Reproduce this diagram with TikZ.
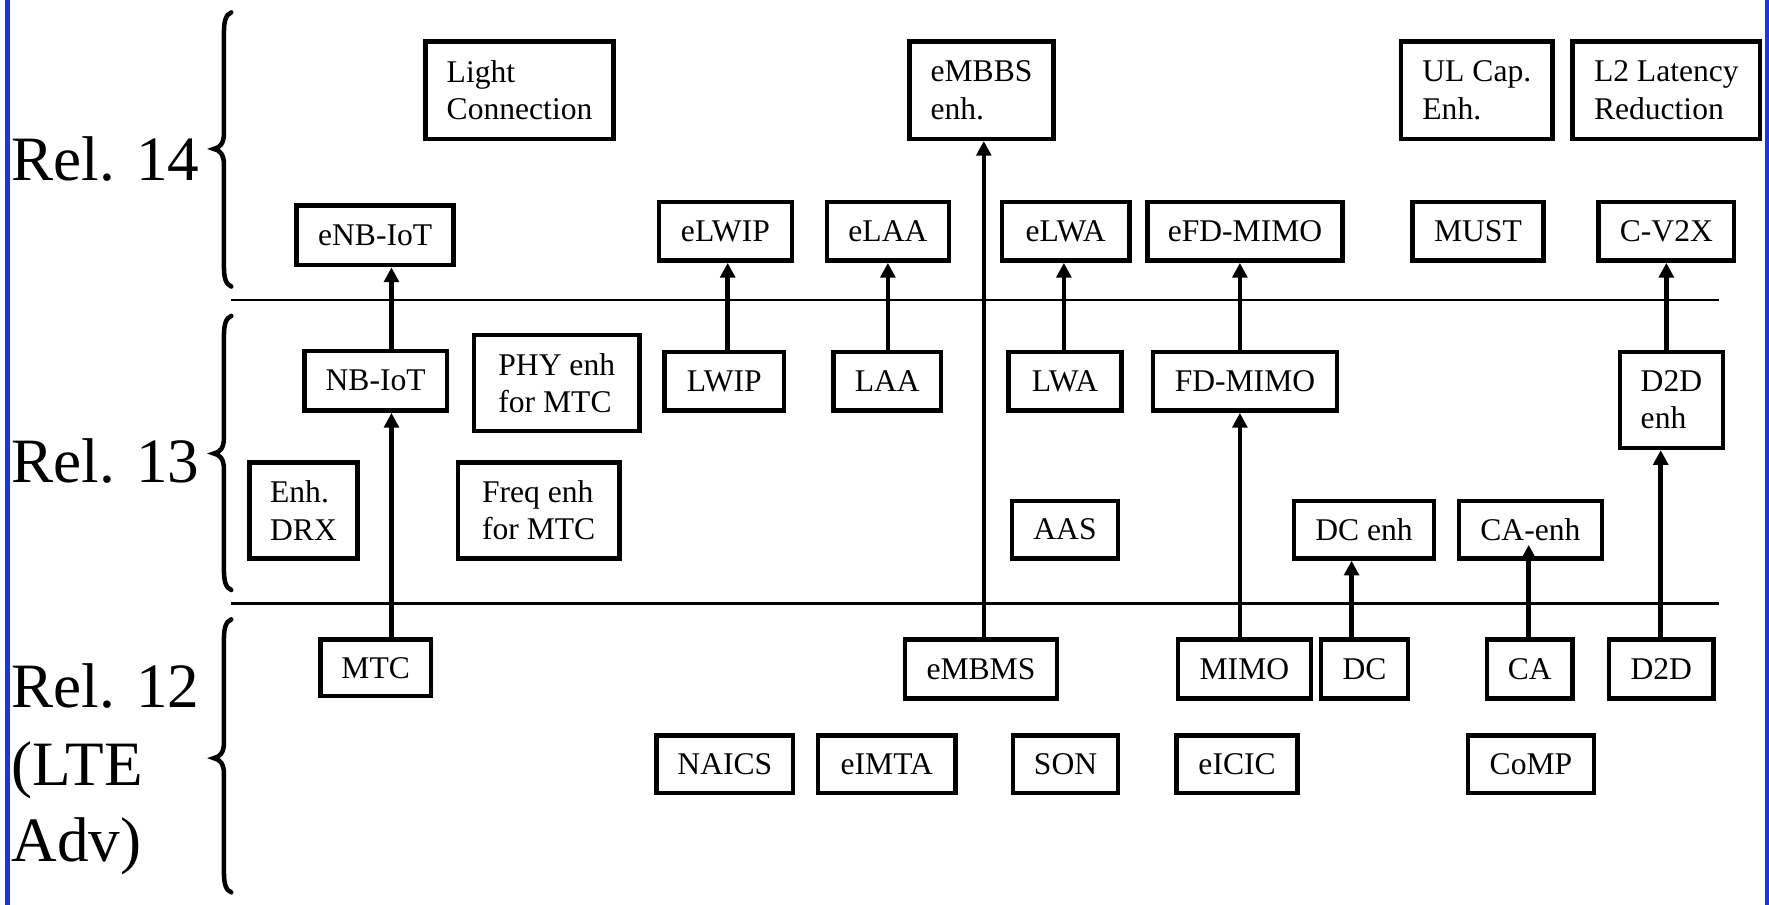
\documentclass[tikz,border=0pt]{standalone}
\usepackage{fontspec}
\setmainfont{Liberation Serif}
\usetikzlibrary{arrows.meta,calc}
\definecolor{sideblue}{RGB}{20,55,235}
\tikzset{
  box/.style={draw, line width=4pt, inner sep=0pt, font=\fontsize{28}{33}\selectfont, align=left},
  arr/.style={line width=4pt, -{Triangle[width=13pt,length=13pt]}},
  rel/.style={font=\fontsize{56}{68}\selectfont, anchor=base west, inner sep=0pt},
  sepline/.style={line width=2pt},
  bracepath/.style={line width=4pt, line cap=round},
}
\newcommand{\bx}[6]{%
  \node[box, minimum width={(#4-#2-4)*1pt}, minimum height={(#5-#3-4)*1pt}] (#1) at ({(#2+#4)/2},{(#3+#5)/2}) {#6};}
\newcommand{\relbrace}[3]{%
  \draw[bracepath] (205,#1) .. controls (200,#1+2) and (198.5,#1+8) .. (198.5,#1+18)
    -- (198.5,#2-14) .. controls (198.5,#2-5) and (195,#2-1) .. (189.5,#2)
    .. controls (195,#2+1) and (198.5,#2+5) .. (198.5,#2+14)
    -- (198.5,#3-18) .. controls (198.5,#3-8) and (200,#3-2) .. (205,#3);}
\begin{document}
\begin{tikzpicture}[x=1pt,y=-1pt]
\useasboundingbox (0,0) rectangle (1568,802);
\fill[sideblue] (4,0) rectangle (8.5,802);
\fill[sideblue] (1564,0) rectangle (1568,802);

% release labels
\node[rel] (r14) at (10,160) {Rel. 14};
\node[rel] (r13) at (10,428) {Rel. 13};
\node[rel] (r12a) at (10,627) {Rel. 12};
\node[rel] (r12b) at (10,696) {(LTE};
\node[rel] (r12c) at (10,764) {Adv)};

\relbrace{11}{132}{254}
\relbrace{280}{402}{523}
\relbrace{549}{672}{791}

\coordinate (s1a) at (205,266); \coordinate (s1b) at (1524,266);
\coordinate (s2a) at (205,535); \coordinate (s2b) at (1524,535);
\draw[sepline] (s1a) -- (s1b);
\draw[sepline] (s2a) -- (s2b);

% Rel. 14
\bx{LC}{375}{35}{546}{125}{Light\\Connection}
\bx{eMBBS}{804}{35}{936}{125}{eMBBS\\enh.}
\bx{ULC}{1240}{35}{1378}{125}{UL Cap.\\Enh.}
\bx{L2}{1392}{35}{1562}{125}{L2 Latency\\Reduction}
\bx{eNB}{261}{180}{404}{237}{eNB-IoT}
\bx{eLWIP}{582}{177}{704}{233}{eLWIP}
\bx{eLAA}{731}{177}{843}{233}{eLAA}
\bx{eLWA}{886}{177}{1003}{233}{eLWA}
\bx{eFD}{1015}{177}{1192}{233}{eFD-MIMO}
\bx{MUST}{1250}{177}{1370}{233}{MUST}
\bx{CV2X}{1415}{177}{1539}{233}{C-V2X}

% Rel. 13
\bx{NB}{268}{309}{398}{366}{NB-IoT}
\bx{PHY}{418}{295}{569}{384}{PHY enh\\for MTC}
\bx{LWIP}{587}{310}{697}{366}{LWIP}
\bx{LAA}{737}{310}{836}{366}{LAA}
\bx{LWA}{892}{310}{996}{366}{LWA}
\bx{FD}{1020}{310}{1187}{366}{FD-MIMO}
\bx{D2De}{1434}{310}{1529}{399}{D2D\\enh}
\bx{DRX}{219}{408}{319}{497}{Enh.\\DRX}
\bx{Freq}{404}{408}{551}{497}{Freq enh\\for MTC}
\bx{AAS}{895}{442}{993}{497}{AAS}
\bx{DCe}{1145}{442}{1273}{497}{DC enh}
\bx{CAe}{1291}{442}{1422}{497}{CA-enh}

% Rel. 12
\bx{MTC}{282}{565}{384}{619}{MTC}
\bx{eMBMS}{800}{565}{939}{621}{eMBMS}
\bx{MIMO}{1042}{565}{1164}{621}{MIMO}
\bx{DC}{1169}{565}{1250}{621}{DC}
\bx{CA}{1316}{565}{1396}{621}{CA}
\bx{D2D}{1424}{565}{1521}{621}{D2D}
\bx{NAICS}{580}{650}{705}{705}{NAICS}
\bx{eIMTA}{723}{650}{849}{705}{eIMTA}
\bx{SON}{896}{650}{993}{705}{SON}
\bx{eICIC}{1041}{650}{1152}{705}{eICIC}
\bx{CoMP}{1299}{650}{1415}{705}{CoMP}

% arrow columns
\coordinate (xNB) at (347,0);
\coordinate (xLWIP) at (645,0);
\coordinate (xLAA) at (787,0);
\coordinate (xMB) at (872,0);
\coordinate (xLWA) at (943,0);
\coordinate (xFD) at (1099,0);
\coordinate (xDC) at (1198,0);
\coordinate (xCA) at (1355,0);
\coordinate (xD2D) at (1472,0);
\coordinate (xV2X) at (1477,0);

\draw[arr] (MTC.north -| xNB) -- (NB.south -| xNB);
\draw[arr] (NB.north -| xNB) -- (eNB.south -| xNB);
\draw[arr] (LWIP.north -| xLWIP) -- (eLWIP.south -| xLWIP);
\draw[arr] (LAA.north -| xLAA) -- (eLAA.south -| xLAA);
\draw[arr] (LWA.north -| xLWA) -- (eLWA.south -| xLWA);
\draw[arr] (eMBMS.north -| xMB) -- (eMBBS.south -| xMB);
\draw[arr] (MIMO.north -| xFD) -- (FD.south -| xFD);
\draw[arr] (FD.north -| xFD) -- (eFD.south -| xFD);
\draw[arr] (DC.north -| xDC) -- (DCe.south -| xDC);
\draw[arr] (CA.north -| xCA) -- ($(CAe.south -| xCA)+(0,-14)$);
\draw[arr] (D2D.north -| xD2D) -- (D2De.south -| xD2D);
\draw[arr] (D2De.north -| xV2X) -- (CV2X.south -| xV2X);
\end{tikzpicture}
\end{document}
